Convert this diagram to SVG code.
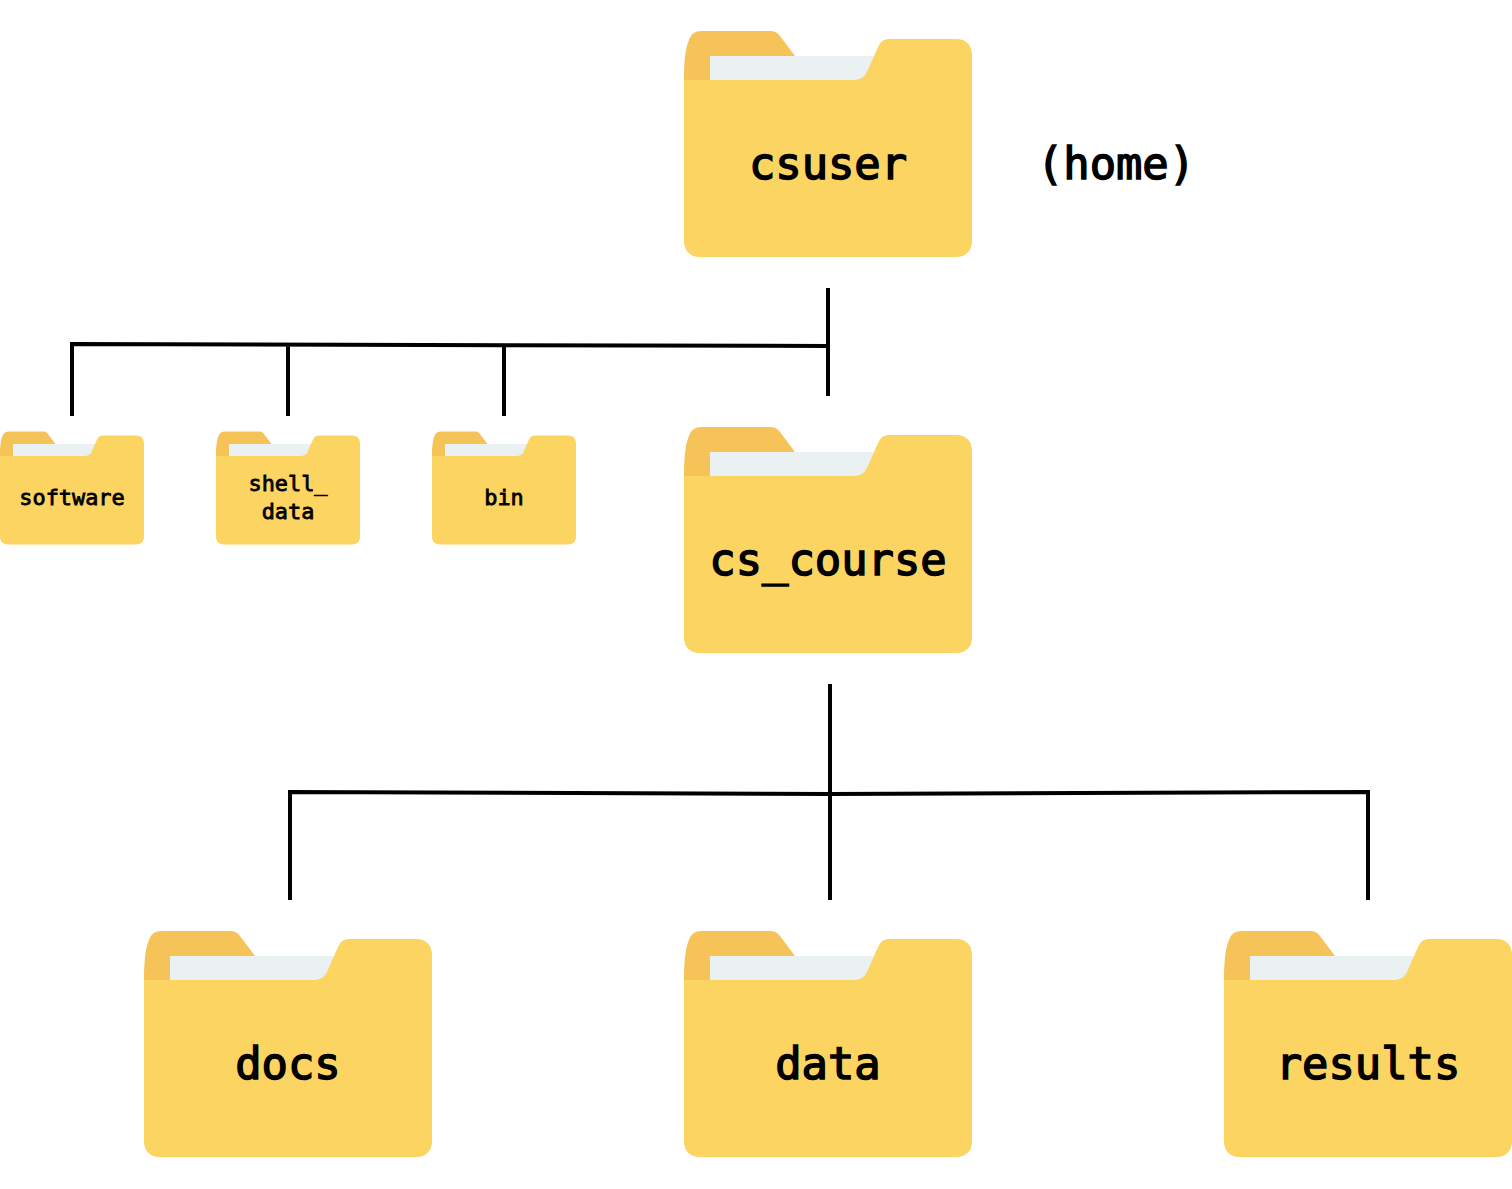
<svg xmlns="http://www.w3.org/2000/svg" width="1512" height="1189" viewBox="0 0 1512 1189">
<style>
.l{fill:none;stroke:#000;stroke-width:4}
text{font-family:"DejaVu Sans Mono","Liberation Mono",monospace;fill:#000;stroke:#000;text-anchor:middle}
.b{font-size:43.8px;stroke-width:1.5}
.s{font-size:21.9px;stroke-width:.8}
</style>
<defs>
<symbol id="folder" width="288" height="228" viewBox="0 0 288 228" overflow="visible">
<path fill="#f6c358" d="M0 50C0 35 1 18 5 10C7 4 11 1 18 1H86C90 1 93 2 96 6L111 26H120V50Z"/>
<rect fill="#ebf0f3" x="26" y="26" width="166" height="26"/>
<path fill="#fcd462" d="M0 50H169C175 50 180 48 183 42L194 17C197 11 200 9 206 9H272C282 9 288 15 288 25V211C288 221 282 227 272 227H16C6 227 0 221 0 211Z"/>
</symbol>
</defs>
<rect width="1512" height="1189" fill="#fff"/>
<g id="connectors">
<path class="l" d="M828 288V396M72 416V344L828 346M288 344V416M504 345V416"/>
<path class="l" d="M830 684V900M290 900V792L830 794L1368 792V900"/>
</g>
<g id="csuser"><use href="#folder" x="684" y="30"/><text class="b" x="828" y="179">csuser</text></g>
<g id="home"><text class="b" x="1116" y="179">(home)</text></g>
<g id="software"><use href="#folder" x="0" y="431" width="144" height="114"/><text class="s" x="72" y="505">software</text></g>
<g id="shell_data"><use href="#folder" x="216" y="431" width="144" height="114"/><text class="s" x="288" y="491">shell_</text><text class="s" x="288" y="519">data</text></g>
<g id="bin"><use href="#folder" x="432" y="431" width="144" height="114"/><text class="s" x="504" y="505">bin</text></g>
<g id="cs_course"><use href="#folder" x="684" y="426"/><text class="b" x="828" y="575">cs_course</text></g>
<g id="docs"><use href="#folder" x="144" y="930"/><text class="b" x="288" y="1079">docs</text></g>
<g id="data"><use href="#folder" x="684" y="930"/><text class="b" x="828" y="1079">data</text></g>
<g id="results"><use href="#folder" x="1224" y="930"/><text class="b" x="1368" y="1079">results</text></g>
</svg>
